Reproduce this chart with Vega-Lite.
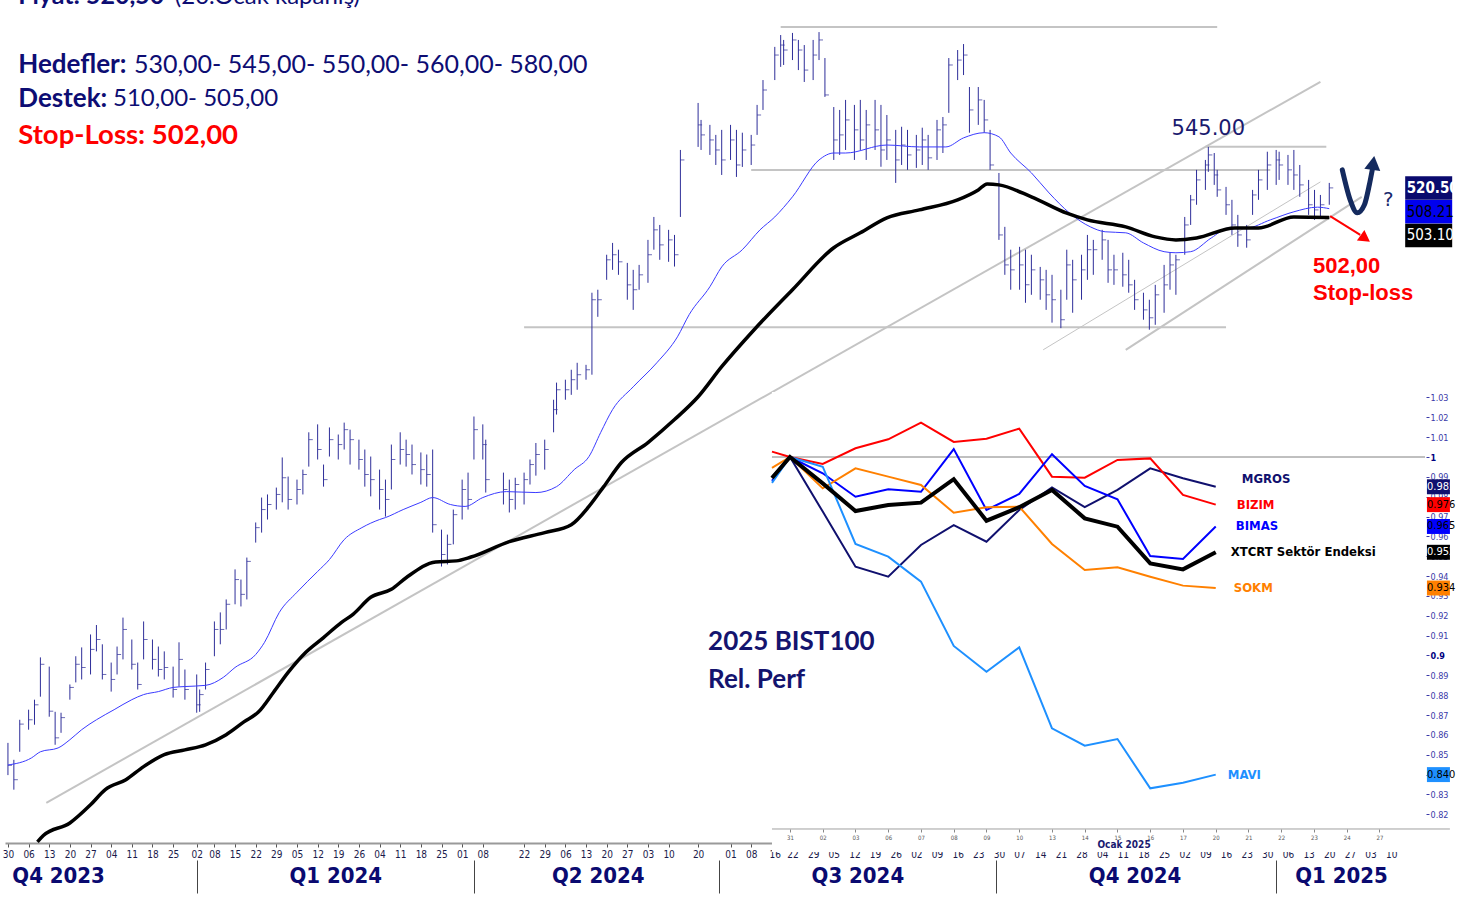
{
"$schema":"https://vega.github.io/schema/vega-lite/v6.json",
"width":1398,"height":843,
"autosize":{"type":"none"},
"padding":{"left":5,"top":0,"right":69,"bottom":56},
"background":"white",
"config":{"view":{"stroke":null},"axis":{"grid":false,"title":null}},
"datasets":{
"bars":[
{"d":"2023-10-30","h":275.0,"l":265.0,"c":268.0},{"d":"2023-11-01","h":269.7,"l":260.6,"c":263.6},{"d":"2023-11-03","h":282.4,"l":272.2,"c":281.0},
{"d":"2023-11-06","h":285.7,"l":279.2,"c":282.4},{"d":"2023-11-08","h":289.0,"l":280.8,"c":287.3},{"d":"2023-11-10","h":303.4,"l":290.0,"c":301.0},
{"d":"2023-11-13","h":300.2,"l":283.4,"c":285.2},{"d":"2023-11-15","h":285.0,"l":274.4,"c":276.6},{"d":"2023-11-17","h":284.7,"l":278.2,"c":283.1},
{"d":"2023-11-20","h":294.1,"l":289.0,"c":293.1},{"d":"2023-11-22","h":303.8,"l":294.8,"c":301.0},{"d":"2023-11-24","h":306.9,"l":295.8,"c":299.9},
{"d":"2023-11-27","h":311.5,"l":297.5,"c":306.2},{"d":"2023-11-29","h":314.9,"l":305.5,"c":309.7},{"d":"2023-12-01","h":308.0,"l":295.8,"c":297.5},
{"d":"2023-12-04","h":301.6,"l":291.7,"c":295.8},{"d":"2023-12-06","h":307.2,"l":297.5,"c":304.4},{"d":"2023-12-08","h":317.6,"l":302.7,"c":313.3},
{"d":"2023-12-11","h":309.7,"l":299.2,"c":301.0},{"d":"2023-12-13","h":301.6,"l":292.4,"c":294.1},{"d":"2023-12-15","h":316.2,"l":302.7,"c":309.7},
{"d":"2023-12-18","h":309.7,"l":299.2,"c":302.7},{"d":"2023-12-20","h":307.2,"l":296.8,"c":299.2},{"d":"2023-12-22","h":305.5,"l":295.8,"c":299.9},
{"d":"2023-12-25","h":300.2,"l":289.7,"c":292.4},{"d":"2023-12-27","h":308.7,"l":293.4,"c":302.7},{"d":"2023-12-29","h":299.2,"l":289.0,"c":292.4},
{"d":"2024-01-02","h":297.5,"l":284.7,"c":287.3},{"d":"2024-01-03","h":292.4,"l":285.0,"c":290.7},{"d":"2024-01-05","h":301.6,"l":292.4,"c":299.2},
{"d":"2024-01-08","h":316.2,"l":303.8,"c":313.3},{"d":"2024-01-10","h":319.5,"l":308.0,"c":313.3},{"d":"2024-01-12","h":324.3,"l":313.3,"c":322.5},
{"d":"2024-01-15","h":335.7,"l":322.5,"c":331.8},{"d":"2024-01-17","h":331.8,"l":321.7,"c":326.2},{"d":"2024-01-19","h":340.3,"l":324.3,"c":338.8},
{"d":"2024-01-22","h":354.3,"l":346.2,"c":352.2},{"d":"2024-01-24","h":364.6,"l":350.2,"c":359.6},{"d":"2024-01-26","h":365.9,"l":355.5,"c":361.7},
{"d":"2024-01-29","h":368.8,"l":359.6,"c":365.9},{"d":"2024-01-31","h":381.8,"l":362.6,"c":373.0},{"d":"2024-02-02","h":373.5,"l":359.6,"c":363.8},
{"d":"2024-02-05","h":372.2,"l":361.7,"c":368.0},{"d":"2024-02-07","h":376.5,"l":365.9,"c":374.4},{"d":"2024-02-09","h":393.0,"l":377.8,"c":389.7},
{"d":"2024-02-12","h":396.6,"l":380.9,"c":385.3},{"d":"2024-02-14","h":378.7,"l":369.2,"c":372.2},{"d":"2024-02-16","h":395.2,"l":382.2,"c":389.7},
{"d":"2024-02-19","h":392.0,"l":380.9,"c":387.5},{"d":"2024-02-21","h":397.4,"l":385.3,"c":394.2},{"d":"2024-02-23","h":394.2,"l":378.7,"c":389.7},
{"d":"2024-02-26","h":389.7,"l":376.5,"c":380.9},{"d":"2024-02-28","h":385.3,"l":369.2,"c":374.4},{"d":"2024-03-01","h":382.2,"l":365.1,"c":372.2},
{"d":"2024-03-04","h":376.5,"l":359.6,"c":368.0},{"d":"2024-03-06","h":372.2,"l":356.7,"c":363.8},{"d":"2024-03-08","h":387.5,"l":368.0,"c":380.9},
{"d":"2024-03-11","h":393.0,"l":378.7,"c":385.3},{"d":"2024-03-13","h":389.7,"l":377.8,"c":383.1},{"d":"2024-03-15","h":387.5,"l":374.4,"c":378.7},
{"d":"2024-03-18","h":384.0,"l":370.1,"c":376.5},{"d":"2024-03-20","h":383.1,"l":369.2,"c":374.4},{"d":"2024-03-22","h":385.3,"l":350.2,"c":353.4},
{"d":"2024-03-25","h":351.4,"l":336.8,"c":341.5},{"d":"2024-03-27","h":349.4,"l":337.6,"c":345.5},{"d":"2024-03-29","h":359.6,"l":345.5,"c":357.5},
{"d":"2024-04-01","h":372.2,"l":355.5,"c":368.0},{"d":"2024-04-03","h":375.2,"l":359.6,"c":363.8},{"d":"2024-04-05","h":400.2,"l":380.9,"c":394.2},
{"d":"2024-04-08","h":396.6,"l":380.9,"c":387.5},{"d":"2024-04-09","h":389.7,"l":366.7,"c":372.2},
{"d":"2024-04-15","h":375.2,"l":361.7,"c":368.0},{"d":"2024-04-17","h":372.2,"l":358.4,"c":363.8},{"d":"2024-04-19","h":373.0,"l":359.6,"c":370.1},
{"d":"2024-04-22","h":375.2,"l":361.7,"c":372.2},{"d":"2024-04-24","h":380.9,"l":370.1,"c":378.7},{"d":"2024-04-26","h":388.2,"l":373.9,"c":383.1},
{"d":"2024-04-29","h":389.7,"l":376.5,"c":385.3},{"d":"2024-05-02","h":408.0,"l":393.0,"c":403.4},{"d":"2024-05-03","h":416.1,"l":401.1,"c":412.7},
{"d":"2024-05-06","h":417.5,"l":408.0,"c":412.7},{"d":"2024-05-08","h":422.3,"l":410.3,"c":417.5},{"d":"2024-05-10","h":425.7,"l":412.7,"c":419.9},
{"d":"2024-05-13","h":424.7,"l":417.5,"c":422.3},{"d":"2024-05-15","h":461.4,"l":419.9,"c":457.7},{"d":"2024-05-17","h":463.0,"l":448.8,"c":457.7},
{"d":"2024-05-20","h":482.0,"l":468.3,"c":479.2},{"d":"2024-05-22","h":488.6,"l":473.7,"c":482.0},{"d":"2024-05-24","h":484.8,"l":471.0,"c":478.1},
{"d":"2024-05-27","h":477.5,"l":457.7,"c":465.6},{"d":"2024-05-29","h":473.7,"l":452.4,"c":463.0},{"d":"2024-05-31","h":476.4,"l":463.0,"c":471.0},
{"d":"2024-06-03","h":490.3,"l":466.7,"c":482.0},{"d":"2024-06-05","h":503.4,"l":484.8,"c":496.0},{"d":"2024-06-07","h":498.8,"l":479.2,"c":487.5},
{"d":"2024-06-10","h":496.0,"l":478.1,"c":490.3},{"d":"2024-06-12","h":493.1,"l":475.5,"c":482.0},{"d":"2024-06-14","h":543.7,"l":503.4,"c":537.5},
{"d":"2024-06-20","h":573.9,"l":545.6,"c":559.6},{"d":"2024-06-21","h":562.8,"l":543.7,"c":553.2},{"d":"2024-06-24","h":559.6,"l":540.6,"c":550.0},
{"d":"2024-06-26","h":553.2,"l":534.4,"c":543.7},{"d":"2024-06-28","h":556.4,"l":528.3,"c":537.5},{"d":"2024-07-01","h":559.6,"l":537.5,"c":550.0},
{"d":"2024-07-03","h":556.4,"l":527.1,"c":534.4},{"d":"2024-07-05","h":554.6,"l":533.2,"c":543.7},{"d":"2024-07-08","h":553.2,"l":534.4,"c":546.8},
{"d":"2024-07-10","h":572.6,"l":553.2,"c":566.0},{"d":"2024-07-12","h":589.2,"l":569.3,"c":582.5},{"d":"2024-07-16","h":612.1,"l":589.2,"c":606.4},
{"d":"2024-07-18","h":620.5,"l":598.2,"c":613.4},{"d":"2024-07-19","h":617.0,"l":599.5,"c":609.9},{"d":"2024-07-22","h":622.0,"l":602.9,"c":617.0},
{"d":"2024-07-24","h":617.0,"l":596.0,"c":609.9},{"d":"2024-07-26","h":613.4,"l":587.9,"c":596.0},{"d":"2024-07-29","h":617.0,"l":589.2,"c":606.4},
{"d":"2024-07-31","h":622.6,"l":602.9,"c":617.0},{"d":"2024-08-02","h":604.3,"l":577.9,"c":579.2},{"d":"2024-08-05","h":571.2,"l":537.5,"c":550.0},
{"d":"2024-08-07","h":569.3,"l":540.6,"c":553.2},{"d":"2024-08-09","h":575.9,"l":543.7,"c":562.8},{"d":"2024-08-12","h":572.6,"l":537.5,"c":556.4},
{"d":"2024-08-14","h":575.9,"l":543.7,"c":550.0},{"d":"2024-08-16","h":569.3,"l":537.5,"c":559.6},{"d":"2024-08-19","h":575.9,"l":543.7,"c":556.4},
{"d":"2024-08-21","h":572.6,"l":533.3,"c":543.7},{"d":"2024-08-23","h":566.0,"l":537.5,"c":550.0},{"d":"2024-08-26","h":556.4,"l":523.5,"c":537.5},
{"d":"2024-08-28","h":558.4,"l":534.4,"c":546.8},{"d":"2024-08-30","h":556.4,"l":531.4,"c":540.6},{"d":"2024-09-02","h":553.2,"l":532.6,"c":543.7},
{"d":"2024-09-04","h":557.8,"l":534.4,"c":550.0},{"d":"2024-09-06","h":553.2,"l":531.4,"c":538.8},{"d":"2024-09-09","h":562.8,"l":537.5,"c":556.4},
{"d":"2024-09-11","h":564.7,"l":541.8,"c":559.6},{"d":"2024-09-13","h":604.3,"l":567.4,"c":599.5},{"d":"2024-09-16","h":609.9,"l":589.2,"c":602.9},
{"d":"2024-09-18","h":614.1,"l":592.6,"c":606.4},{"d":"2024-09-20","h":584.5,"l":554.6,"c":569.3},{"d":"2024-09-23","h":584.5,"l":559.6,"c":575.9},
{"d":"2024-09-25","h":575.9,"l":554.6,"c":562.8},{"d":"2024-09-27","h":556.4,"l":531.4,"c":534.4},{"d":"2024-09-30","h":529.5,"l":490.3,"c":493.1},
{"d":"2024-10-02","h":497.7,"l":471.0,"c":476.4},{"d":"2024-10-04","h":484.8,"l":463.0,"c":473.7},{"d":"2024-10-07","h":486.4,"l":463.0,"c":476.4},
{"d":"2024-10-09","h":484.8,"l":456.1,"c":465.6},{"d":"2024-10-11","h":482.0,"l":460.3,"c":473.7},{"d":"2024-10-14","h":475.3,"l":457.7,"c":468.3},
{"d":"2024-10-16","h":473.7,"l":452.4,"c":460.3},{"d":"2024-10-18","h":471.0,"l":445.8,"c":457.7},{"d":"2024-10-21","h":463.0,"l":443.0,"c":447.3},
{"d":"2024-10-23","h":484.8,"l":457.7,"c":476.4},{"d":"2024-10-25","h":479.2,"l":450.9,"c":468.3},{"d":"2024-10-28","h":482.0,"l":457.7,"c":473.7},
{"d":"2024-10-30","h":493.1,"l":468.3,"c":484.8},{"d":"2024-11-01","h":490.3,"l":471.0,"c":484.8},{"d":"2024-11-04","h":496.0,"l":479.2,"c":490.3},
{"d":"2024-11-06","h":490.3,"l":466.7,"c":473.7},{"d":"2024-11-08","h":482.0,"l":465.6,"c":473.7},{"d":"2024-11-11","h":483.1,"l":464.6,"c":471.0},
{"d":"2024-11-13","h":479.2,"l":461.4,"c":465.6},{"d":"2024-11-15","h":468.3,"l":452.4,"c":457.7},{"d":"2024-11-18","h":461.4,"l":447.3,"c":452.4},
{"d":"2024-11-20","h":457.7,"l":442.2,"c":448.3},{"d":"2024-11-22","h":465.6,"l":444.7,"c":460.3},{"d":"2024-11-25","h":476.4,"l":450.9,"c":465.6},
{"d":"2024-11-27","h":483.1,"l":463.0,"c":476.4},{"d":"2024-11-29","h":482.0,"l":460.3,"c":479.2},{"d":"2024-12-02","h":503.4,"l":482.0,"c":498.8},
{"d":"2024-12-04","h":516.3,"l":498.8,"c":513.4},{"d":"2024-12-06","h":531.4,"l":510.5,"c":525.3},{"d":"2024-12-09","h":537.5,"l":519.3,"c":534.4},
{"d":"2024-12-10","h":545.6,"l":530.2,"c":540.6},{"d":"2024-12-12","h":541.8,"l":522.3,"c":528.3},{"d":"2024-12-13","h":531.4,"l":515.2,"c":519.3},
{"d":"2024-12-16","h":521.1,"l":504.6,"c":510.5},{"d":"2024-12-18","h":513.4,"l":493.1,"c":498.8},{"d":"2024-12-20","h":504.6,"l":486.4,"c":493.1},
{"d":"2024-12-23","h":498.8,"l":485.9,"c":490.3},{"d":"2024-12-25","h":519.3,"l":504.6,"c":516.3},{"d":"2024-12-27","h":531.4,"l":513.4,"c":525.3},
{"d":"2024-12-30","h":542.6,"l":519.3,"c":534.4},{"d":"2025-01-02","h":543.7,"l":522.3,"c":537.5},{"d":"2025-01-03","h":542.6,"l":525.3,"c":534.4},
{"d":"2025-01-06","h":540.6,"l":522.3,"c":531.4},{"d":"2025-01-08","h":543.7,"l":519.3,"c":528.3},{"d":"2025-01-10","h":534.4,"l":515.2,"c":522.3},
{"d":"2025-01-13","h":525.3,"l":504.6,"c":510.5},{"d":"2025-01-15","h":519.3,"l":501.7,"c":507.5},{"d":"2025-01-17","h":516.3,"l":502.9,"c":510.5},
{"d":"2025-01-20","h":523.5,"l":510.5,"c":520.5}
],
"ma20":[
{"d":"2023-10-30","p":268.1},{"d":"2023-11-07","p":270.3},{"d":"2023-11-10","p":272.2},{"d":"2023-11-16","p":273.4},{"d":"2023-11-20","p":276.0},
{"d":"2023-11-24","p":279.2},{"d":"2023-11-29","p":282.4},{"d":"2023-12-05","p":285.7},{"d":"2023-12-11","p":289.0},{"d":"2023-12-15","p":290.7},
{"d":"2023-12-20","p":291.7},{"d":"2023-12-25","p":293.1},{"d":"2023-12-29","p":293.4},{"d":"2024-01-05","p":293.8},{"d":"2024-01-11","p":296.5},
{"d":"2024-01-15","p":299.9},{"d":"2024-01-22","p":304.4},{"d":"2024-01-25","p":308.7},{"d":"2024-01-30","p":319.5},{"d":"2024-02-05","p":327.0},
{"d":"2024-02-12","p":334.9},{"d":"2024-02-16","p":339.5},{"d":"2024-02-21","p":347.4},{"d":"2024-02-27","p":352.2},{"d":"2024-03-04","p":355.5},
{"d":"2024-03-06","p":356.3},{"d":"2024-03-12","p":359.6},{"d":"2024-03-18","p":362.6},{"d":"2024-03-22","p":364.6},{"d":"2024-03-28","p":361.7},
{"d":"2024-04-02","p":360.9},{"d":"2024-04-08","p":364.6},{"d":"2024-04-16","p":367.1},{"d":"2024-04-26","p":366.7},{"d":"2024-05-03","p":369.2},
{"d":"2024-05-09","p":376.5},{"d":"2024-05-14","p":382.2},{"d":"2024-05-18","p":393.0},{"d":"2024-05-22","p":403.4},{"d":"2024-05-29","p":414.1},
{"d":"2024-06-06","p":425.7},{"d":"2024-06-13","p":438.6},{"d":"2024-06-17","p":450.0},{"d":"2024-06-24","p":464.6},{"d":"2024-06-28","p":475.3},
{"d":"2024-07-05","p":484.8},{"d":"2024-07-11","p":496.0},{"d":"2024-07-16","p":503.4},{"d":"2024-07-22","p":515.2},{"d":"2024-07-31","p":537.5},
{"d":"2024-08-05","p":541.8},{"d":"2024-08-09","p":541.8},{"d":"2024-08-23","p":546.8},{"d":"2024-09-03","p":545.6},{"d":"2024-09-12","p":545.6},
{"d":"2024-09-18","p":551.3},{"d":"2024-09-25","p":554.6},{"d":"2024-09-30","p":552.0},{"d":"2024-10-04","p":541.8},{"d":"2024-10-11","p":529.6},
{"d":"2024-10-17","p":517.5},{"d":"2024-10-24","p":505.6},{"d":"2024-10-31","p":497.7},{"d":"2024-11-05","p":494.9},{"d":"2024-11-12","p":494.3},
{"d":"2024-11-18","p":488.6},{"d":"2024-11-25","p":483.7},{"d":"2024-11-29","p":483.1},{"d":"2024-12-04","p":483.7},{"d":"2024-12-11","p":491.4},
{"d":"2024-12-17","p":497.1},{"d":"2024-12-23","p":497.1},{"d":"2024-12-31","p":501.7},{"d":"2025-01-08","p":506.4},{"d":"2025-01-16","p":509.1},
{"d":"2025-01-20","p":508.21}
],
"ma50":[
{"d":"2023-11-09","p":245.4},{"d":"2023-11-11","p":247.2},{"d":"2023-11-20","p":250.8},{"d":"2023-11-27","p":256.1},{"d":"2023-12-02","p":260.6},
{"d":"2023-12-09","p":263.6},{"d":"2023-12-15","p":267.6},{"d":"2023-12-22","p":271.3},{"d":"2023-12-29","p":272.8},{"d":"2024-01-05","p":274.4},
{"d":"2024-01-12","p":277.6},{"d":"2024-01-18","p":281.7},{"d":"2024-01-23","p":285.0},{"d":"2024-01-28","p":291.4},{"d":"2024-02-02","p":298.2},
{"d":"2024-02-08","p":305.2},{"d":"2024-02-14","p":310.4},{"d":"2024-02-20","p":315.8},{"d":"2024-02-24","p":318.8},{"d":"2024-03-01","p":325.1},
{"d":"2024-03-08","p":328.1},{"d":"2024-03-13","p":332.5},{"d":"2024-03-23","p":338.6},{"d":"2024-03-30","p":339.0},{"d":"2024-04-04","p":340.5},
{"d":"2024-04-17","p":346.6},{"d":"2024-04-29","p":350.2},{"d":"2024-05-08","p":353.4},{"d":"2024-05-14","p":360.9},{"d":"2024-05-19","p":369.2},
{"d":"2024-05-25","p":379.6},{"d":"2024-06-03","p":388.4},{"d":"2024-06-12","p":398.8},{"d":"2024-06-20","p":409.4},{"d":"2024-06-28","p":423.8},
{"d":"2024-07-09","p":442.2},{"d":"2024-07-22","p":463.0},{"d":"2024-08-05","p":485.9},{"d":"2024-08-14","p":494.3},{"d":"2024-08-23","p":502.9},
{"d":"2024-09-03","p":507.5},{"d":"2024-09-16","p":513.4},{"d":"2024-09-23","p":519.3},{"d":"2024-09-26","p":522.9},{"d":"2024-09-30","p":522.3},
{"d":"2024-10-11","p":515.2},{"d":"2024-10-23","p":505.6},{"d":"2024-10-30","p":501.7},{"d":"2024-11-12","p":497.7},{"d":"2024-11-22","p":492.0},
{"d":"2024-11-29","p":490.3},{"d":"2024-12-06","p":491.4},{"d":"2024-12-19","p":497.1},{"d":"2024-12-27","p":497.1},{"d":"2025-01-08","p":503.4},
{"d":"2025-01-20","p":503.10}
],
"levels":[
{"d1":"2024-07-18","d2":"2024-12-13","p":626.3},
{"d1":"2024-07-08","d2":"2024-12-31","p":531.3},
{"d1":"2024-12-09","d2":"2025-01-19","p":545.7},
{"d1":"2024-04-22","d2":"2024-12-16","p":443.5}
],
"trends":[
{"k":"main","d1":"2023-11-12","p1":256.7,"d2":"2025-01-17","p2":588.0},
{"k":"thin","d1":"2024-10-15","p1":432.1,"d2":"2025-01-17","p2":524.1},
{"k":"main","d1":"2024-11-12","p1":432.1,"d2":"2025-01-31","p2":515.2}
],
"varrow":[
{"d":"2025-01-24T10:00:00","p":531.4},{"d":"2025-01-27T02:00:00","p":513.4},{"d":"2025-01-29T12:00:00","p":505.8},
{"d":"2025-01-31T22:00:00","p":510.5},{"d":"2025-02-02T14:00:00","p":522.3},{"d":"2025-02-03T14:00:00","p":531.4}
],
"tags":[
{"s":"price","t":"520.50","v":520.5},{"s":"ma20","t":"508.21","v":508.21},{"s":"ma50","t":"503.10","v":503.10}
],
"rel":[
{"s":"MGROS","i":-0.55,"v":0.990},{"s":"MGROS","i":0,"v":1.0},{"s":"MGROS","i":1,"v":0.9725},{"s":"MGROS","i":2,"v":0.9447},{"s":"MGROS","i":3,"v":0.9397},{"s":"MGROS","i":4,"v":0.9557},{"s":"MGROS","i":5,"v":0.9657},{"s":"MGROS","i":6,"v":0.9573},{"s":"MGROS","i":7,"v":0.9733},{"s":"MGROS","i":8,"v":0.9847},{"s":"MGROS","i":9,"v":0.9747},{"s":"MGROS","i":10,"v":0.9834},{"s":"MGROS","i":11,"v":0.9943},{"s":"MGROS","i":12,"v":0.9893},{"s":"MGROS","i":13,"v":0.985},
{"s":"BIZIM","i":-0.55,"v":1.0027},{"s":"BIZIM","i":0,"v":1.0},{"s":"BIZIM","i":1,"v":0.9965},{"s":"BIZIM","i":2,"v":1.0044},{"s":"BIZIM","i":3,"v":1.0089},{"s":"BIZIM","i":4,"v":1.0173},{"s":"BIZIM","i":5,"v":1.0076},{"s":"BIZIM","i":6,"v":1.0092},{"s":"BIZIM","i":7,"v":1.0143},{"s":"BIZIM","i":8,"v":0.9901},{"s":"BIZIM","i":9,"v":0.9896},{"s":"BIZIM","i":10,"v":0.9985},{"s":"BIZIM","i":11,"v":0.9993},{"s":"BIZIM","i":12,"v":0.9809},{"s":"BIZIM","i":13,"v":0.976},
{"s":"BIMAS","i":-0.55,"v":0.988},{"s":"BIMAS","i":0,"v":1.0},{"s":"BIMAS","i":1,"v":0.9918},{"s":"BIMAS","i":2,"v":0.980},{"s":"BIMAS","i":3,"v":0.9837},{"s":"BIMAS","i":4,"v":0.9825},{"s":"BIMAS","i":5,"v":1.004},{"s":"BIMAS","i":6,"v":0.9733},{"s":"BIMAS","i":7,"v":0.9814},{"s":"BIMAS","i":8,"v":1.0014},{"s":"BIMAS","i":9,"v":0.9854},{"s":"BIMAS","i":10,"v":0.9787},{"s":"BIMAS","i":11,"v":0.9501},{"s":"BIMAS","i":12,"v":0.9486},{"s":"BIMAS","i":13,"v":0.965},
{"s":"SOKM","i":-0.55,"v":0.9945},{"s":"SOKM","i":0,"v":1.0},{"s":"SOKM","i":1,"v":0.9842},{"s":"SOKM","i":2,"v":0.9943},{"s":"SOKM","i":3,"v":0.9901},{"s":"SOKM","i":4,"v":0.9859},{"s":"SOKM","i":5,"v":0.9719},{"s":"SOKM","i":6,"v":0.9747},{"s":"SOKM","i":7,"v":0.975},{"s":"SOKM","i":8,"v":0.9562},{"s":"SOKM","i":9,"v":0.9431},{"s":"SOKM","i":10,"v":0.9444},{"s":"SOKM","i":11,"v":0.9397},{"s":"SOKM","i":12,"v":0.9352},{"s":"SOKM","i":13,"v":0.934},
{"s":"MAVI","i":-0.55,"v":0.987},{"s":"MAVI","i":0,"v":1.0},{"s":"MAVI","i":1,"v":0.9951},{"s":"MAVI","i":2,"v":0.9562},{"s":"MAVI","i":3,"v":0.9498},{"s":"MAVI","i":4,"v":0.9372},{"s":"MAVI","i":5,"v":0.9048},{"s":"MAVI","i":6,"v":0.8918},{"s":"MAVI","i":7,"v":0.9041},{"s":"MAVI","i":8,"v":0.8633},{"s":"MAVI","i":9,"v":0.8546},{"s":"MAVI","i":10,"v":0.8579},{"s":"MAVI","i":11,"v":0.8331},{"s":"MAVI","i":12,"v":0.8359},{"s":"MAVI","i":13,"v":0.840},
{"s":"XTCRT Sektör Endeksi","i":-0.55,"v":0.9894},{"s":"XTCRT Sektör Endeksi","i":0,"v":1.0},{"s":"XTCRT Sektör Endeksi","i":1,"v":0.9867},{"s":"XTCRT Sektör Endeksi","i":2,"v":0.9728},{"s":"XTCRT Sektör Endeksi","i":3,"v":0.9758},{"s":"XTCRT Sektör Endeksi","i":4,"v":0.977},{"s":"XTCRT Sektör Endeksi","i":5,"v":0.9888},{"s":"XTCRT Sektör Endeksi","i":6,"v":0.9679},{"s":"XTCRT Sektör Endeksi","i":7,"v":0.9747},{"s":"XTCRT Sektör Endeksi","i":8,"v":0.9834},{"s":"XTCRT Sektör Endeksi","i":9,"v":0.9691},{"s":"XTCRT Sektör Endeksi","i":10,"v":0.9649},{"s":"XTCRT Sektör Endeksi","i":11,"v":0.9464},{"s":"XTCRT Sektör Endeksi","i":12,"v":0.9434},{"s":"XTCRT Sektör Endeksi","i":13,"v":0.952}
]
},
"layer":[
{
"resolve":{"axis":{"x":"independent"}},
"layer":[
{"data":{"name":"levels"},"mark":{"type":"rule","color":"#c4c4c4","strokeWidth":2},
 "encoding":{"x":{"field":"d1","type":"temporal","scale":{"domain":[{"year":2023,"month":10,"date":29},{"year":2025,"month":2,"date":14}]},"axis":null},"x2":{"field":"d2"},
 "y":{"field":"p","type":"quantitative","scale":{"type":"log","domain":[245.1,646],"nice":false},"axis":null}}},
{"data":{"name":"trends"},"mark":{"type":"rule","color":"#c4c4c4"},
 "encoding":{"x":{"field":"d1","type":"temporal","scale":{"domain":[{"year":2023,"month":10,"date":29},{"year":2025,"month":2,"date":14}]},"axis":null},"x2":{"field":"d2"},
 "y":{"field":"p1","type":"quantitative","scale":{"type":"log","domain":[245.1,646],"nice":false},"axis":null},"y2":{"field":"p2"},
 "strokeWidth":{"field":"k","type":"nominal","scale":{"domain":["main","thin"],"range":[2,1]},"legend":null}}},
{"data":{"name":"bars"},"mark":{"type":"rule","color":"#2e2e99","strokeWidth":1},
 "encoding":{"x":{"field":"d","type":"temporal","scale":{"domain":[{"year":2023,"month":10,"date":29},{"year":2025,"month":2,"date":14}]},
   "axis":{"orient":"bottom","format":"%d","labelFont":"DejaVu Sans Condensed, DejaVu Sans, sans-serif","labelFontSize":10,"labelColor":"#1a1a4a","tickSize":4,"tickColor":"#555","domainColor":"#9a9a9a","domainWidth":2,"labelPadding":2,"labelFlush":false,"labelOverlap":false,"labelBound":false,
   "values":[{"year":2023,"month":10,"date":30},{"year":2023,"month":11,"date":6},{"year":2023,"month":11,"date":13},{"year":2023,"month":11,"date":20},{"year":2023,"month":11,"date":27},{"year":2023,"month":12,"date":4},{"year":2023,"month":12,"date":11},{"year":2023,"month":12,"date":18},{"year":2023,"month":12,"date":25},{"year":2024,"month":1,"date":2},{"year":2024,"month":1,"date":8},{"year":2024,"month":1,"date":15},{"year":2024,"month":1,"date":22},{"year":2024,"month":1,"date":29},{"year":2024,"month":2,"date":5},{"year":2024,"month":2,"date":12},{"year":2024,"month":2,"date":19},{"year":2024,"month":2,"date":26},{"year":2024,"month":3,"date":4},{"year":2024,"month":3,"date":11},{"year":2024,"month":3,"date":18},{"year":2024,"month":3,"date":25},{"year":2024,"month":4,"date":1},{"year":2024,"month":4,"date":8},{"year":2024,"month":4,"date":22},{"year":2024,"month":4,"date":29},{"year":2024,"month":5,"date":6},{"year":2024,"month":5,"date":13},{"year":2024,"month":5,"date":20},{"year":2024,"month":5,"date":27},{"year":2024,"month":6,"date":3},{"year":2024,"month":6,"date":10},{"year":2024,"month":6,"date":20},{"year":2024,"month":7,"date":1},{"year":2024,"month":7,"date":8},{"year":2024,"month":7,"date":16},{"year":2024,"month":7,"date":22},{"year":2024,"month":7,"date":29},{"year":2024,"month":8,"date":5},{"year":2024,"month":8,"date":12},{"year":2024,"month":8,"date":19},{"year":2024,"month":8,"date":26},{"year":2024,"month":9,"date":2},{"year":2024,"month":9,"date":9},{"year":2024,"month":9,"date":16},{"year":2024,"month":9,"date":23},{"year":2024,"month":9,"date":30},{"year":2024,"month":10,"date":7},{"year":2024,"month":10,"date":14},{"year":2024,"month":10,"date":21},{"year":2024,"month":10,"date":28},{"year":2024,"month":11,"date":4},{"year":2024,"month":11,"date":11},{"year":2024,"month":11,"date":18},{"year":2024,"month":11,"date":25},{"year":2024,"month":12,"date":2},{"year":2024,"month":12,"date":9},{"year":2024,"month":12,"date":16},{"year":2024,"month":12,"date":23},{"year":2024,"month":12,"date":30},{"year":2025,"month":1,"date":6},{"year":2025,"month":1,"date":13},{"year":2025,"month":1,"date":20},{"year":2025,"month":1,"date":27},{"year":2025,"month":2,"date":3},{"year":2025,"month":2,"date":10}]}},
 "y":{"field":"h","type":"quantitative","scale":{"type":"log","domain":[245.1,646],"nice":false},
   "axis":{"orient":"right","values":[440,480,520,560,600,640],"format":"d","labelFont":"DejaVu Sans Condensed, DejaVu Sans, sans-serif","labelFontSize":15,"labelColor":"#14145a","tickColor":"#14145a","tickSize":4,"domain":false,"labelPadding":1}},
 "y2":{"field":"l"}}},
{"data":{"name":"bars"},"mark":{"type":"tick","orient":"horizontal","size":4,"thickness":1,"xOffset":2,"color":"#2e2e99"},
 "encoding":{"x":{"field":"d","type":"temporal","scale":{"domain":[{"year":2023,"month":10,"date":29},{"year":2025,"month":2,"date":14}]},"axis":null},
 "y":{"field":"c","type":"quantitative","scale":{"type":"log","domain":[245.1,646],"nice":false},"axis":null}}},
{"data":{"name":"ma20"},"mark":{"type":"line","color":"#3b3bff","strokeWidth":1,"interpolate":"monotone"},
 "encoding":{"x":{"field":"d","type":"temporal","scale":{"domain":[{"year":2023,"month":10,"date":29},{"year":2025,"month":2,"date":14}]},
   "axis":{"orient":"bottom","offset":17,"labels":false,"domain":false,"tickSize":33,"tickColor":"#444","tickWidth":1,
   "values":[{"year":2024,"month":1,"date":2},{"year":2024,"month":4,"date":5},{"year":2024,"month":6,"date":27},{"year":2024,"month":9,"date":29},{"year":2025,"month":1,"date":2}]}},
 "y":{"field":"p","type":"quantitative","scale":{"type":"log","domain":[245.1,646],"nice":false},"axis":null}}},
{"data":{"name":"ma50"},"mark":{"type":"line","color":"#000000","strokeWidth":3.5,"interpolate":"monotone"},
 "encoding":{"x":{"field":"d","type":"temporal","scale":{"domain":[{"year":2023,"month":10,"date":29},{"year":2025,"month":2,"date":14}]},
   "axis":{"orient":"bottom","offset":22,"ticks":false,"domain":false,"labelFont":"Liberation Sans Narrow, DejaVu Sans Condensed, sans-serif","labelFontSize":22,"labelFontWeight":"bold","labelColor":"#0a0a70","labelPadding":0,"labelBaseline":"top","labelFlush":false,"labelOverlap":false,"labelBound":false,
   "labelExpr":"'Q' + (floor(month(datum.value)/3)+1) + ' ' + year(datum.value)",
   "values":[{"year":2023,"month":11,"date":16},{"year":2024,"month":2,"date":18},{"year":2024,"month":5,"date":17},{"year":2024,"month":8,"date":13},{"year":2024,"month":11,"date":15},{"year":2025,"month":1,"date":24}]}},
 "y":{"field":"p","type":"quantitative","scale":{"type":"log","domain":[245.1,646],"nice":false},"axis":null}}},
{"data":{"name":"tags"},"mark":{"type":"point","filled":true,"opacity":1,"size":2209,"shape":"M-1,-0.5H1V0.5H-1Z","strokeWidth":0,"yOffset":{"expr":"datum.s=='ma50'?18:(datum.s=='ma20'?3:0)"}},
 "encoding":{"x":{"datum":{"year":2025,"month":2,"date":22,"hours":17},"type":"temporal","axis":null},
 "y":{"field":"v","type":"quantitative","scale":{"type":"log","domain":[245.1,646],"nice":false},"axis":null},
 "fill":{"field":"s","type":"nominal","scale":{"domain":["price","ma20","ma50"],"range":["#0a0a6e","#0000ee","#000000"]},"legend":null}}},
{"data":{"name":"tags"},"mark":{"type":"text","align":"left","baseline":"middle","font":"DejaVu Sans Condensed, DejaVu Sans, sans-serif","fontSize":15,"fontWeight":{"expr":"datum.s=='price'?'bold':'normal'"},"yOffset":{"expr":"datum.s=='ma50'?18:(datum.s=='ma20'?3:0)"}},
 "encoding":{"x":{"datum":{"year":2025,"month":2,"date":15,"hours":6},"type":"temporal","axis":null},
 "y":{"field":"v","type":"quantitative","scale":{"type":"log","domain":[245.1,646],"nice":false},"axis":null},
 "text":{"field":"t"},
 "color":{"condition":{"test":"datum.s=='ma20'","value":"#000000"},"value":"#ffffff"}}},
{"data":{"values":[{"t":"Fiyat: 520,50"}]},"mark":{"type":"text","align":"left","baseline":"alphabetic","font":"Lato, Open Sans, sans-serif","fontSize":25,"fontWeight":"bold","color":"#0d0d73"},
 "encoding":{"x":{"datum":{"year":2023,"month":11,"date":2,"hours":12},"type":"temporal","axis":null},"y":{"datum":643,"type":"quantitative","axis":null},"text":{"field":"t"}}},
{"data":{"values":[{"t":"(20.Ocak kapanış)"}]},"mark":{"type":"text","align":"left","baseline":"alphabetic","font":"Lato, Open Sans, sans-serif","fontSize":24,"color":"#0d0d73"},
 "encoding":{"x":{"datum":{"year":2023,"month":12,"date":25,"hours":14},"type":"temporal","axis":null},"y":{"datum":643,"type":"quantitative","axis":null},"text":{"field":"t"}}},
{"data":{"values":[{"t":"Hedefler:"}]},"mark":{"type":"text","align":"left","baseline":"middle","font":"Lato, Open Sans, sans-serif","fontSize":26,"fontWeight":"bold","color":"#0d0d73"},
 "encoding":{"x":{"datum":{"year":2023,"month":11,"date":2,"hours":12},"type":"temporal","axis":null},"y":{"datum":599.5,"type":"quantitative","axis":null},"text":{"field":"t"}}},
{"data":{"values":[{"t":"530,00- 545,00- 550,00- 560,00- 580,00"}]},"mark":{"type":"text","align":"left","baseline":"middle","font":"Lato, Open Sans, sans-serif","fontSize":25,"color":"#0d0d73"},
 "encoding":{"x":{"datum":{"year":2023,"month":12,"date":11,"hours":17},"type":"temporal","axis":null},"y":{"datum":599.5,"type":"quantitative","axis":null},"text":{"field":"t"}}},
{"data":{"values":[{"t":"Destek:"}]},"mark":{"type":"text","align":"left","baseline":"middle","font":"Lato, Open Sans, sans-serif","fontSize":26,"fontWeight":"bold","color":"#0d0d73"},
 "encoding":{"x":{"datum":{"year":2023,"month":11,"date":2,"hours":12},"type":"temporal","axis":null},"y":{"datum":576.5,"type":"quantitative","axis":null},"text":{"field":"t"}}},
{"data":{"values":[{"t":"510,00- 505,00"}]},"mark":{"type":"text","align":"left","baseline":"middle","font":"Lato, Open Sans, sans-serif","fontSize":24,"color":"#0d0d73"},
 "encoding":{"x":{"datum":{"year":2023,"month":12,"date":4,"hours":15},"type":"temporal","axis":null},"y":{"datum":576.5,"type":"quantitative","axis":null},"text":{"field":"t"}}},
{"data":{"values":[{"t":"Stop-Loss: 502,00"}]},"mark":{"type":"text","align":"left","baseline":"middle","font":"Lato, Open Sans, sans-serif","fontSize":27.5,"fontWeight":"bold","color":"#ff0000"},
 "encoding":{"x":{"datum":{"year":2023,"month":11,"date":2,"hours":12},"type":"temporal","axis":null},"y":{"datum":552.6,"type":"quantitative","axis":null},"text":{"field":"t"}}},
{"data":{"values":[{"t":"545.00"}]},"mark":{"type":"text","align":"center","baseline":"middle","font":"DejaVu Sans, sans-serif","fontSize":21,"color":"#1a1a6e"},
 "encoding":{"x":{"datum":{"year":2024,"month":12,"date":10},"type":"temporal","axis":null},"y":{"datum":557,"type":"quantitative","axis":null},"text":{"field":"t"}}},
{"data":{"values":[{"t":"502,00"}]},"mark":{"type":"text","align":"left","baseline":"middle","font":"Liberation Sans, Arial, sans-serif","fontSize":22,"fontWeight":"bold","color":"#ff0000"},
 "encoding":{"x":{"datum":{"year":2025,"month":1,"date":14,"hours":12},"type":"temporal","axis":null},"y":{"datum":475.9,"type":"quantitative","axis":null},"text":{"field":"t"}}},
{"data":{"values":[{"t":"Stop-loss"}]},"mark":{"type":"text","align":"left","baseline":"middle","font":"Liberation Sans, Arial, sans-serif","fontSize":22,"fontWeight":"bold","color":"#ff0000"},
 "encoding":{"x":{"datum":{"year":2025,"month":1,"date":14,"hours":12},"type":"temporal","axis":null},"y":{"datum":461.4,"type":"quantitative","axis":null},"text":{"field":"t"}}},
{"data":{"values":[{"t":"?"}]},"mark":{"type":"text","align":"center","baseline":"middle","font":"DejaVu Sans, sans-serif","fontSize":20,"color":"#1a2a6e"},
 "encoding":{"x":{"datum":{"year":2025,"month":2,"date":9},"type":"temporal","axis":null},"y":{"datum":513.4,"type":"quantitative","axis":null},"text":{"field":"t"}}},
{"data":{"values":[{"t":"arrow"}]},"mark":{"type":"rule","color":"#ff0000","strokeWidth":2},
 "encoding":{"x":{"datum":{"year":2025,"month":1,"date":20,"hours":7},"type":"temporal","axis":null},"x2":{"datum":{"year":2025,"month":1,"date":30,"hours":12}},
 "y":{"datum":503.9,"type":"quantitative","axis":null},"y2":{"datum":493.1}}},
{"data":{"values":[{"t":"head"}]},"mark":{"type":"point","shape":"triangle-up","filled":true,"opacity":1,"color":"#ff0000","size":170,"angle":125},
 "encoding":{"x":{"datum":{"year":2025,"month":2,"date":1,"hours":5},"type":"temporal","axis":null},"y":{"datum":491.1,"type":"quantitative","axis":null}}},
{"data":{"name":"varrow"},"mark":{"type":"line","color":"#142a5e","strokeWidth":5,"interpolate":"monotone","strokeCap":"round"},
 "encoding":{"x":{"field":"d","type":"temporal","axis":null},"y":{"field":"p","type":"quantitative","axis":null}}},
{"data":{"values":[{"t":"head"}]},"mark":{"type":"point","shape":"triangle-up","filled":true,"opacity":1,"color":"#142a5e","size":260,"angle":8},
 "encoding":{"x":{"datum":{"year":2025,"month":2,"date":3,"hours":22},"type":"temporal","axis":null},"y":{"datum":535.7,"type":"quantitative","axis":null}}}
]
},
{
"resolve":{"axis":{"x":"independent","y":"independent"}},
"layer":[
{"data":{"values":[{"t":"bg"}]},"mark":{"type":"rect","fill":"#ffffff"},
 "encoding":{"x":{"datum":-0.55,"type":"quantitative","scale":{"domain":[-23.969,18.718],"nice":false,"zero":false},
   "axis":{"orient":"bottom","offset":-14,"values":[0,1,2,3,4,5,6,7,8,9,10,11,12,13,14,15,16,17,18,19],"labelExpr":"['31','02','03','06','07','08','09','10','13','14','15','16','17','20','21','22','23','24','27','28'][datum.value]","labelFont":"DejaVu Sans Condensed, DejaVu Sans, sans-serif","labelFontSize":6,"labelColor":"#555555","tickColor":"#888888","tickSize":3,"domain":false,"zindex":1,"labelFlush":false,"labelOverlap":false,"labelPadding":2}},
 "x2":{"datum":19.39},
 "y":{"datum":1.0327,"type":"quantitative","scale":{"domain":[0.80554,1.23023],"nice":false,"zero":false},
   "axis":{"orient":"right","offset":23,"values":[0.82,0.83,0.84,0.85,0.86,0.87,0.88,0.89,0.9,0.91,0.92,0.93,0.94,0.95,0.96,0.97,0.98,0.99,1,1.01,1.02,1.03],"format":".2~f","labelFont":"DejaVu Sans Condensed, DejaVu Sans, sans-serif","labelFontSize":9,"labelColor":{"condition":{"test":"datum.value == 1 || datum.value == 0.9","value":"#000080"},"value":"#3a3aa8"},"labelFontWeight":{"condition":{"test":"datum.value == 1 || datum.value == 0.9","value":"bold"},"value":"normal"},"tickColor":"#3a3aa8","tickSize":3,"domain":false,"labelPadding":1}},
 "y2":{"datum":0.801}}},
{"data":{"values":[{"t":"one"}]},"mark":{"type":"rule","color":"#808080","strokeWidth":1},
 "encoding":{"x":{"datum":-0.55,"type":"quantitative","axis":null},"x2":{"datum":19.39},"y":{"datum":1,"type":"quantitative","axis":null}}},
{"data":{"values":[{"t":"base"}]},"mark":{"type":"rule","color":"#a0a0a0","strokeWidth":1},
 "encoding":{"x":{"datum":-0.55,"type":"quantitative","axis":null},"x2":{"datum":20.15},"y":{"datum":0.8126,"type":"quantitative","axis":null}}},
{"data":{"name":"rel"},"transform":[{"filter":"datum.s != 'XTCRT Sektör Endeksi'"}],"mark":{"type":"line","strokeWidth":2},
 "encoding":{"x":{"field":"i","type":"quantitative","axis":null},
 "y":{"field":"v","type":"quantitative","axis":null},
 "color":{"field":"s","type":"nominal","scale":{"domain":["MGROS","BIZIM","BIMAS","XTCRT Sektör Endeksi","SOKM","MAVI"],"range":["#10106e","#ff0000","#0000ff","#000000","#ff8000","#1e90ff"]},"legend":null}}},
{"data":{"name":"rel"},"transform":[{"filter":"datum.s == 'XTCRT Sektör Endeksi'"}],"mark":{"type":"line","strokeWidth":4},
 "encoding":{"x":{"field":"i","type":"quantitative","axis":null},"y":{"field":"v","type":"quantitative","axis":null},
 "color":{"field":"s","type":"nominal","legend":null}}},
{"data":{"name":"rel"},"transform":[{"filter":"datum.i == 13"}],"mark":{"type":"text","align":"left","baseline":"middle","font":"Liberation Sans Narrow, DejaVu Sans Condensed, sans-serif","fontSize":13,"fontWeight":"bold",
   "dx":{"expr":"datum.s=='MGROS'?26:(datum.s=='BIZIM'?21:(datum.s=='BIMAS'?20:(datum.s=='SOKM'?18:(datum.s=='MAVI'?12:15))))"},"dy":{"expr":"datum.s=='MGROS'?-8:0"}},
 "encoding":{"x":{"field":"i","type":"quantitative","axis":null},"y":{"field":"v","type":"quantitative","axis":null},"text":{"field":"s"},
 "color":{"field":"s","type":"nominal","legend":null}}},
{"data":{"name":"rel"},"transform":[{"filter":"datum.i == 13"}],"mark":{"type":"point","filled":true,"opacity":1,"size":529,"shape":"M-1,-0.65H1V0.65H-1Z","strokeWidth":0},
 "encoding":{"x":{"datum":19.8,"type":"quantitative","axis":null},"y":{"field":"v","type":"quantitative","axis":null},
 "color":{"field":"s","type":"nominal","legend":null}}},
{"data":{"name":"rel"},"transform":[{"filter":"datum.i == 13"}],"mark":{"type":"text","align":"left","baseline":"middle","font":"DejaVu Sans Condensed, DejaVu Sans, sans-serif","fontSize":11,"dx":0},
 "encoding":{"x":{"datum":19.45,"type":"quantitative","axis":null},"y":{"field":"v","type":"quantitative","axis":null},"text":{"field":"v","format":".3f"},
 "color":{"condition":{"test":"datum.s=='MGROS' || datum.s=='XTCRT Sektör Endeksi'","value":"#ffffff"},"value":"#000000"}}},
{"data":{"values":[{"t":["2025 BIST100","Rel. Perf"]}]},"mark":{"type":"text","align":"left","baseline":"middle","font":"Lato, Open Sans, sans-serif","fontSize":26,"fontWeight":"bold","color":"#14146e","lineHeight":38},
 "encoding":{"x":{"datum":-2.5,"type":"quantitative","axis":null},"y":{"datum":0.9068,"type":"quantitative","axis":null},"text":{"field":"t"}}},
{"data":{"values":[{"t":"Ocak 2025"}]},"mark":{"type":"text","align":"center","baseline":"middle","font":"DejaVu Sans Condensed, DejaVu Sans, sans-serif","fontSize":10,"fontWeight":"bold","color":"#1a1a70"},
 "encoding":{"x":{"datum":10.2,"type":"quantitative","axis":null},"y":{"datum":0.8045,"type":"quantitative","axis":null},"text":{"field":"t"}}}
]
}
],
"resolve":{"scale":{"x":"independent","y":"independent","color":"independent","fill":"independent","strokeWidth":"independent"},"axis":{"x":"independent","y":"independent"}}
}
